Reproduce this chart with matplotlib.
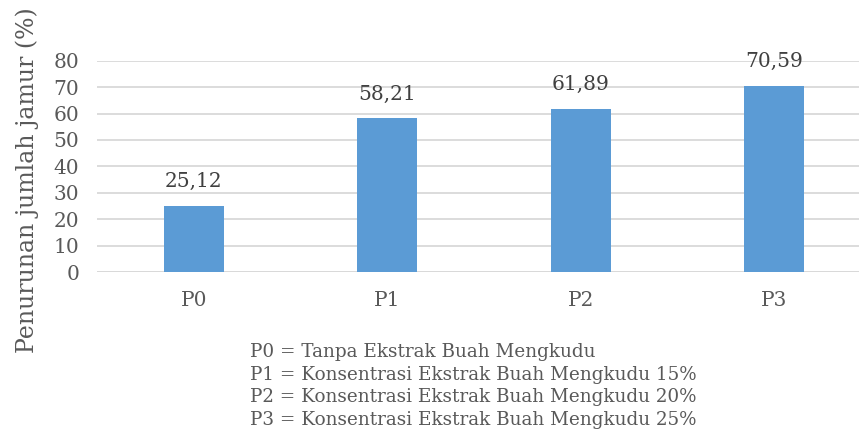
import matplotlib.pyplot as plt

categories = ["P0", "P1", "P2", "P3"]
values = [25.12, 58.21, 61.89, 70.59]
value_labels = ["25,12", "58,21", "61,89", "70,59"]
yticks = [0, 10, 20, 30, 40, 50, 60, 70, 80]
notes = [
    "P0 = Tanpa Ekstrak Buah Mengkudu",
    "P1 = Konsentrasi Ekstrak Buah Mengkudu 15%",
    "P2 = Konsentrasi Ekstrak Buah Mengkudu 20%",
    "P3 = Konsentrasi Ekstrak Buah Mengkudu 25%",
]

TEXT = "#595959"
plt.rcParams["font.family"] = ["DejaVu Serif"]

fig = plt.figure(figsize=(8.59, 4.32), dpi=100, facecolor="white")
W, H = 859, 432
left, right = 97.25, 871.0
top, bottom = 60.7, 272.0
ax = fig.add_axes([left / W, 1 - bottom / H, (right - left) / W, (bottom - top) / H])

x = range(len(categories))
ax.bar(x, values, width=0.31, color="#5B9BD5", zorder=3)
for xi, v, lab in zip(x, values, value_labels):
    ax.text(xi, v + 5.5, lab, ha="center", va="bottom", fontsize=14.5, color="#404040")

ax.set_xlim(-0.5, len(categories) - 0.5)
ax.set_ylim(0, 80)
ax.set_yticks(yticks)
ax.set_xticks(list(x))
ax.set_xticklabels(categories)
ax.grid(axis="y", color="#D9D9D9", linewidth=1.3, zorder=0)
ax.tick_params(axis="both", length=0, labelsize=14.5, labelcolor=TEXT)
ax.tick_params(axis="y", pad=13)
ax.tick_params(axis="x", pad=14)
for s in ax.spines.values():
    s.set_visible(False)
ax.axhline(0, color="#D9D9D9", linewidth=1.3, zorder=2)

fig.text(27 / W, 1 - 180 / H, "Penurunan jumlah jamur (%)", rotation=90,
         ha="center", va="center", fontsize=17, color=TEXT)

for i, line in enumerate(notes):
    fig.text(250 / W, 1 - (352 + i * 22.7) / H, line, ha="left", va="center",
             fontsize=13.2, color=TEXT)

fig.savefig("out.png", dpi=100)
